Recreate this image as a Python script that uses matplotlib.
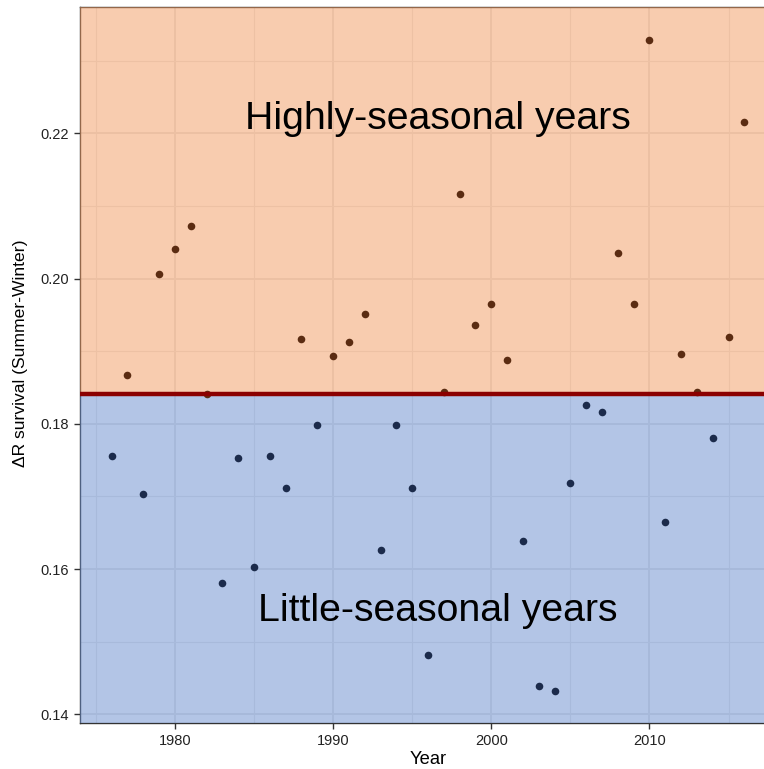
import matplotlib
matplotlib.use("Agg")
import matplotlib.pyplot as plt
from matplotlib.ticker import FixedLocator
import numpy as np

years = list(range(1976, 2017))
delta_r = [
    0.1755, 0.18675, 0.1703, 0.2007, 0.2041, 0.2072, 0.1841, 0.1581, 0.1753, 0.1603,  # 1976-1985
    0.1756, 0.1712, 0.1917, 0.1799, 0.1893, 0.1913, 0.1951, 0.1626, 0.1798, 0.1711,  # 1986-1995
    0.1481, 0.18445, 0.2117, 0.1936, 0.1965, 0.1888, 0.1638, 0.1439, 0.1432, 0.1719,  # 1996-2005
    0.1826, 0.1816, 0.2035, 0.1965, 0.2329, 0.1665, 0.1896, 0.18445, 0.1780, 0.1920,  # 2006-2015
    0.2216,  # 2016
]
threshold = 0.1841
x_ticks = [1980, 1990, 2000, 2010]
y_ticks = [0.14, 0.16, 0.18, 0.20, 0.22]
y_tick_labels = ["0.14", "0.16", "0.18", "0.20", "0.22"]
label_high = "Highly-seasonal years"
label_low = "Little-seasonal years"
x_title = "Year"
y_title = "ΔR survival (Summer-Winter)"

plt.rcParams['font.family'] = ['Liberation Sans', 'DejaVu Sans']

W, H = 764, 769
fig = plt.figure(figsize=(W / 100, H / 100), dpi=100)
fig.patch.set_facecolor('white')
ax_left, ax_right, ax_top, ax_bot = 80, 776, 7.3, 722.7
ax = fig.add_axes([ax_left / W, (H - ax_bot) / H, (ax_right - ax_left) / W, (ax_bot - ax_top) / H])
ax.set_facecolor('white')

xmin, xmax = 1974.0, 2018.0
ymin, ymax = 0.13884, 0.23736
ax.set_xlim(xmin, xmax)
ax.set_ylim(ymin, ymax)

# grid
ax.xaxis.set_major_locator(FixedLocator(x_ticks))
ax.yaxis.set_major_locator(FixedLocator(y_ticks))
ax.xaxis.set_minor_locator(FixedLocator([1975, 1985, 1995, 2005, 2015]))
ax.yaxis.set_minor_locator(FixedLocator([0.15, 0.17, 0.19, 0.21, 0.23]))
ax.set_axisbelow(True)
ax.grid(which='major', color='#e6e6e6', linewidth=1.4, zorder=0.5)
ax.grid(which='minor', color='#e8e8e8', linewidth=0.8, zorder=0.5)

for sp in ax.spines.values():
    sp.set_color('#333333')
    sp.set_linewidth(1.0)

# shaded regions (semi-transparent, overlaying grid and border)
ax.axhspan(threshold, ymax, color=(243 / 255, 155 / 255, 97 / 255), alpha=0.5, lw=0, zorder=2.6)
ax.axhspan(ymin, threshold, color=(105 / 255, 141 / 255, 207 / 255), alpha=0.5, lw=0, zorder=2.6)

yrs = np.array(years)
vals = np.array(delta_r)
hi = vals >= threshold
ax.scatter(yrs[hi], vals[hi], s=30, color='#5b2c12', lw=0, zorder=4)
ax.scatter(yrs[~hi], vals[~hi], s=30, color='#1c2b4b', lw=0, zorder=4)

ax.axhline(threshold, color='#8b0000', linewidth=3.2, zorder=5)

ax.text(1996.6, 0.2206, label_high, fontsize=28.3, ha='center', va='baseline', color='black', zorder=6)
ax.text(1996.6, 0.1529, label_low, fontsize=28.3, ha='center', va='baseline', color='black', zorder=6)

ax.set_yticklabels(y_tick_labels)
ax.tick_params(which='major', direction='out', length=4.3, width=1.0, color='#333333',
               labelsize=10.5, labelcolor='#222222', pad=3.5)
ax.tick_params(which='minor', length=0)

ax.set_xlabel(x_title, fontsize=13.2, color='black')
ax.set_ylabel(y_title, fontsize=12.6, color='black')
ax.xaxis.set_label_coords((428 - ax_left) / (ax_right - ax_left), -(760 - ax_bot) / (ax_bot - ax_top))
ax.xaxis.label.set_va('center')
ax.yaxis.set_label_coords(-(80 - 21) / (ax_right - ax_left), (ax_bot - 353) / (ax_bot - ax_top))
ax.yaxis.label.set_va('center')

fig.savefig('out.png', dpi=100)
